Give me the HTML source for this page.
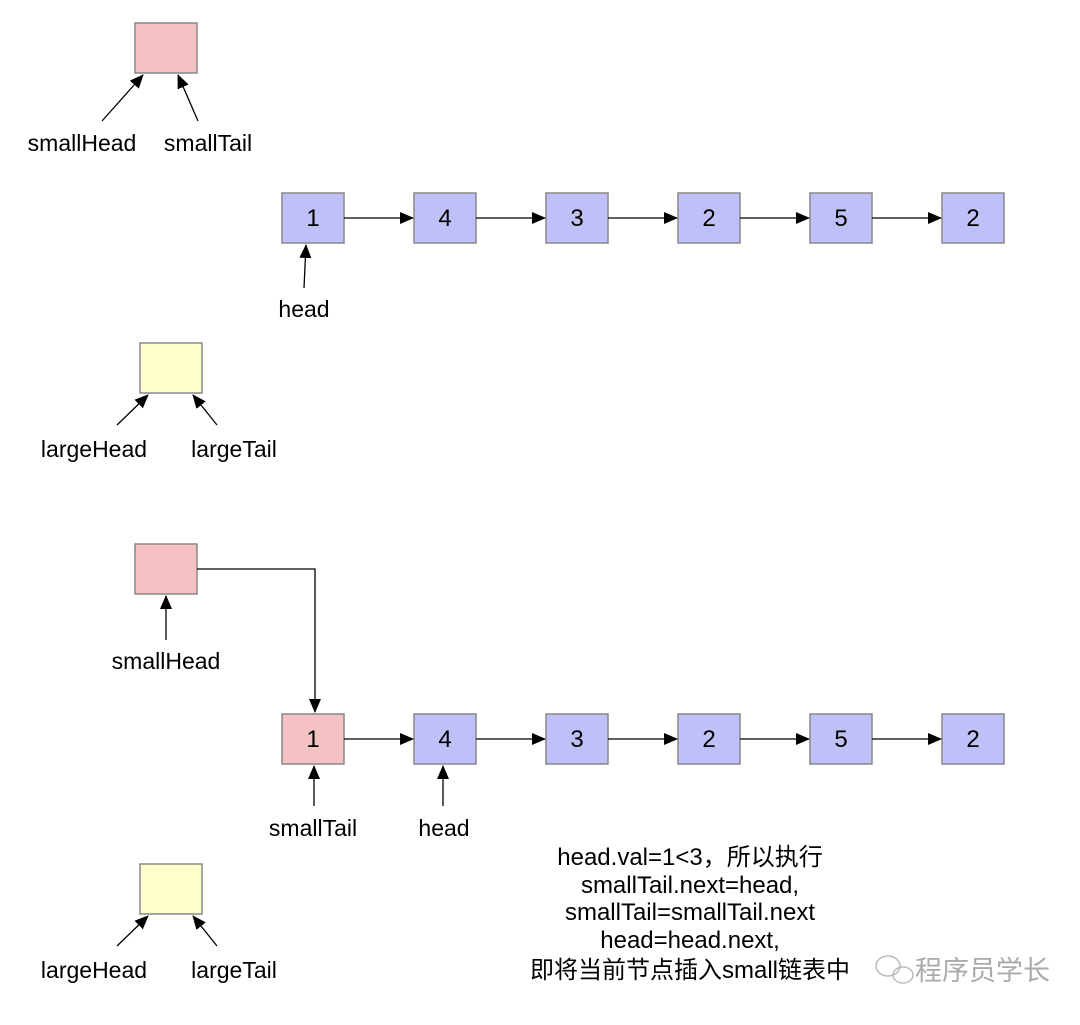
<!DOCTYPE html>
<html><head><meta charset="utf-8"><style>
body{margin:0;background:#fff;}
svg text{font-family:"Liberation Sans","Noto Sans CJK SC",sans-serif;fill:#000;}
</style></head><body>
<svg width="1080" height="1020" xmlns="http://www.w3.org/2000/svg">
<defs><marker id="a" markerWidth="14" markerHeight="12" refX="13" refY="6" orient="auto" markerUnits="userSpaceOnUse"><path d="M0,0 L14,6 L0,12 z" fill="#000"/></marker></defs>
<g stroke="#888" stroke-width="1.5">
<rect x="135" y="23" width="62" height="50" fill="#f4c2c2"/>
<rect x="140" y="343" width="62" height="50" fill="#ffffcc"/>
<rect x="135" y="544" width="62" height="50" fill="#f4c2c2"/>
<rect x="140" y="864" width="62" height="50" fill="#ffffcc"/>
<rect x="282" y="193" width="62" height="50" fill="#c0c0f8"/>
<rect x="414" y="193" width="62" height="50" fill="#c0c0f8"/>
<rect x="546" y="193" width="62" height="50" fill="#c0c0f8"/>
<rect x="678" y="193" width="62" height="50" fill="#c0c0f8"/>
<rect x="810" y="193" width="62" height="50" fill="#c0c0f8"/>
<rect x="942" y="193" width="62" height="50" fill="#c0c0f8"/>
<rect x="282" y="714" width="62" height="50" fill="#f4c2c2"/>
<rect x="414" y="714" width="62" height="50" fill="#c0c0f8"/>
<rect x="546" y="714" width="62" height="50" fill="#c0c0f8"/>
<rect x="678" y="714" width="62" height="50" fill="#c0c0f8"/>
<rect x="810" y="714" width="62" height="50" fill="#c0c0f8"/>
<rect x="942" y="714" width="62" height="50" fill="#c0c0f8"/>
</g>
<g stroke="#000" stroke-width="1.3" fill="none" marker-end="url(#a)">
<line x1="344" y1="218" x2="413" y2="218"/><line x1="476" y1="218" x2="545" y2="218"/><line x1="608" y1="218" x2="677" y2="218"/><line x1="740" y1="218" x2="809" y2="218"/><line x1="872" y1="218" x2="941" y2="218"/>
<line x1="344" y1="739" x2="413" y2="739"/><line x1="476" y1="739" x2="545" y2="739"/><line x1="608" y1="739" x2="677" y2="739"/><line x1="740" y1="739" x2="809" y2="739"/><line x1="872" y1="739" x2="941" y2="739"/>
<line x1="102" y1="121" x2="143" y2="75"/><line x1="198" y1="121" x2="178" y2="75"/>
<line x1="304" y1="288" x2="306" y2="245"/>
<line x1="117" y1="425" x2="148" y2="395"/><line x1="217" y1="425" x2="193" y2="395"/>
<line x1="166" y1="640" x2="166" y2="596"/>
<polyline points="197,569 315,569 315,712"/>
<line x1="314" y1="806" x2="314" y2="766"/><line x1="443" y1="806" x2="443" y2="766"/>
<line x1="117" y1="946" x2="148" y2="916"/><line x1="217" y1="946" x2="193" y2="916"/>
</g>
<g font-size="23" text-anchor="middle">
<text x="82" y="151">smallHead</text><text x="208" y="151">smallTail</text>
<text x="304" y="317">head</text>
<text x="94" y="457">largeHead</text><text x="234" y="457">largeTail</text>
<text x="166" y="669">smallHead</text>
<text x="313" y="836">smallTail</text><text x="444" y="836">head</text>
<text x="94" y="978">largeHead</text><text x="234" y="978">largeTail</text>
<g font-size="24">
<text x="313" y="226">1</text><text x="445" y="226">4</text><text x="577" y="226">3</text><text x="709" y="226">2</text><text x="841" y="226">5</text><text x="973" y="226">2</text>
<text x="313" y="747">1</text><text x="445" y="747">4</text><text x="577" y="747">3</text><text x="709" y="747">2</text><text x="841" y="747">5</text><text x="973" y="747">2</text>
<text x="690" y="865">head.val=1&lt;3，所以执行</text>
<text x="690" y="893">smallTail.next=head,</text>
<text x="690" y="920">smallTail=smallTail.next</text>
<text x="690" y="948">head=head.next,</text>
<text x="690" y="978">即将当前节点插入small链表中</text>
</g>
</g>
<g stroke="#bbb" stroke-width="1.5" fill="none">
<ellipse cx="888" cy="966" rx="12" ry="10"/><ellipse cx="903" cy="975" rx="10" ry="8"/>
</g>
<text x="915" y="980" font-size="27" style="fill:#aaa">程序员学长</text>
</svg>
</body></html>
